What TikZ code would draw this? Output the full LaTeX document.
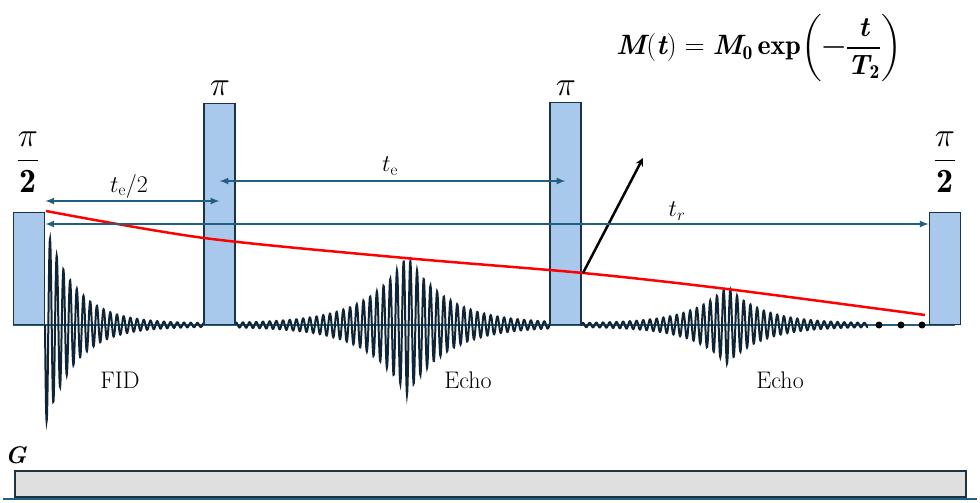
\RequirePackage{fix-cm}
\documentclass[tikz,border=0pt]{standalone}
\usepackage{fontspec}
\usepackage{amsmath}
\usepackage{amssymb}
\definecolor{pulsefill}{HTML}{A9C9EC}
\definecolor{pulseedge}{HTML}{1E3246}
\definecolor{wavecol}{HTML}{0F2537}
\definecolor{delaycol}{HTML}{1F5F80}
\definecolor{basecol}{HTML}{24607F}
\newcommand{\bi}[1]{\text{\bfseries\itshape #1}}
\newcommand{\decaylaw}{$\bi{M}\mathbf{(}\bi{t}\mathbf{)}\mathrel{\mathbf{=}}\bi{M}_{\mathbf{0}}\,\mathbf{exp}\biggl(\text{\bfseries −}\dfrac{\bi{t}}{\bi{T}_{\mathbf{2}}}\biggr)$}
\newcommand{\halfpi}{$\dfrac{\pi}{\mathbf{2}}$}
\tikzset{
  pulse/.style={draw=pulseedge, fill=pulsefill, line width=1.5pt, minimum width=31pt, inner sep=0pt, anchor=south},
  delay/.style={<->, >=latex, draw=delaycol, line width=2pt},
  wave/.style={draw=wavecol, line width=2pt},
  lbl/.style={font=\fontsize{24}{28}\selectfont},
  big/.style={font=\fontsize{34}{40}\selectfont},
  lawtext/.style={font=\fontsize{28}{33}\selectfont, inner sep=0pt},
}

\begin{document}
\begin{tikzpicture}[x=1pt,y=-1pt]
    \useasboundingbox (0,0) rectangle (980,503);
    % Baseline
    \draw[basecol, line width=2pt] (13,325) -- (955,325);
    % Waves
    \draw[wave] plot[domain=45:205,samples=700] (\x,{325+(100*exp(-(\x-45)/30)+1.5)*sin(((\x-45)/6.7)*360)});
    \draw[wave] plot[domain=235:550,samples=1100] (\x,{325+(68*exp(-abs(\x-407)/40)+1.5)*cos(((\x-407)/6.7)*360)});
    \draw[wave] plot[domain=581:868,samples=1000] (\x,{325+(37*exp(-abs(\x-727)/35)+1.5)*cos(((\x-727)/6.7)*360)});
    \foreach \d in {879,901,922} {
      \fill (\d,325) circle (3.5pt);
    }
    % Pulses
    \node[pulse, minimum height=112pt] (p1) at (29,325) {};
    \node[pulse, minimum height=221pt] (p2) at (219.5,325) {};
    \node[pulse, minimum height=222pt] (p3) at (565.5,325) {};
    \node[pulse, minimum height=112pt] (p4) at (945,325) {};
    \node[big] (h1) at (28,162) {\halfpi};
    \node[big] (pi2) at (220,88) {$\pi$};
    \node[big] (pi3) at (566,88) {$\pi$};
    \node[big] (h4) at (945,162) {\halfpi};
    % Decay
    \draw[red, line width=2.5pt] plot[smooth, tension=0.5] coordinates {(46,211) (204,238) (405,258) (583,273) (727,289) (925,315)};
    \coordinate (m) at (583,273);
    \coordinate (mtip) at (643,158);
    \draw[-stealth, line width=2.5pt] (m) -- (mtip);
    % Delays
    \coordinate (a1) at (p1.east |- 0,201);
    \coordinate (a2) at (p2.center |- 0,201);
    \coordinate (b2) at (p2.center |- 0,181);
    \coordinate (b3) at (p3.center |- 0,181);
    \coordinate (c1) at (p1.east |- 0,224);
    \coordinate (c4) at (p4.west |- 0,224);
    \draw[delay] (a1) -- (a2);
    \draw[delay] (b2) -- (b3);
    \draw[delay] (c1) -- (c4);
    \node[lbl] (te2) at (129,186) {$t_{\mathrm{e}}/2$};
    \node[lbl] (te) at (390,166) {$t_{\mathrm{e}}$};
    \node[lbl] (tr) at (677,211) {$t_r$};
    % Labels
    \node[lbl] (fid) at (120,380) {FID};
    \node[lbl] (echo1) at (468,380) {Echo};
    \node[lbl] (echo2) at (780,380) {Echo};
    \node[lawtext] (eq) at (759,48) {\decaylaw};
    % Gradient
    \node[lbl] (g) at (16,455) {\textbf{\textit{G}}};
    \draw[draw=pulseedge, fill=gray!25, line width=1.5pt] (15,471) rectangle (966,497);
    \draw[basecol, line width=2.5pt] (3,499) -- (977,499);
\end{tikzpicture}
\end{document}
